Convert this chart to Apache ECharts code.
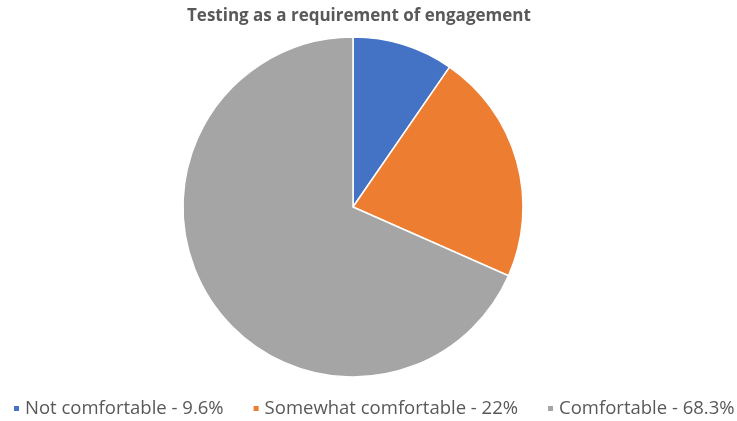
<!DOCTYPE html>
<html><head><meta charset="utf-8">
<script src="https://cdn.jsdelivr.net/npm/echarts@6/dist/echarts.min.js"></script>
<style>html,body{margin:0;padding:0;background:#fff}#c{width:737px;height:421px}</style>
</head><body><div id="c"></div>
<script>
const categories = ["Not comfortable - 9.6%", "Somewhat comfortable - 22%", "Comfortable - 68.3%"];
const values = [9.6, 22, 68.3];
const colors = ["#4472C4", "#ED7D31", "#A5A5A5"];
const chart = echarts.init(document.getElementById('c'));
chart.setOption({
  animation: false,
  title: {text: "Testing as a requirement of engagement", left: 182, top: 3,
    textStyle: {fontFamily: 'Open Sans', fontWeight: 'bold', fontSize: 17, color: '#595959'}},
  legend: {top: 399, left: 12, width: 725, padding: 0, itemWidth: 7, itemHeight: 7, icon: 'rect', itemGap: 28,
    textStyle: {fontFamily: 'Open Sans', fontSize: 18.5, color: '#595959'}},
  color: colors,
  series: [{type: 'pie', center: [353, 207], radius: 170, startAngle: 90, clockwise: true,
    label: {show: false}, labelLine: {show: false},
    itemStyle: {borderColor: '#fff', borderWidth: 1.5},
    data: categories.map((c, i) => ({name: c, value: values[i]}))}]
});
</script></body></html>
